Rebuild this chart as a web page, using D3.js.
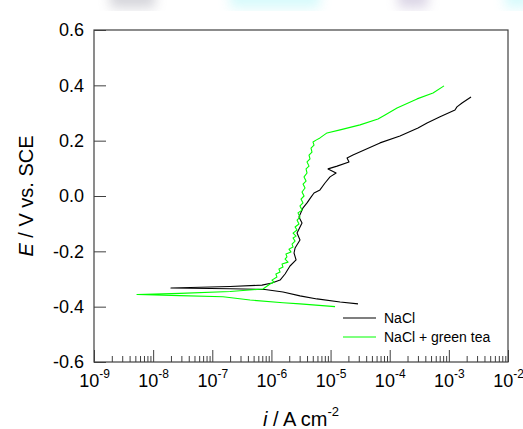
<!DOCTYPE html>
<html><head><meta charset="utf-8">
<script src="https://cdn.jsdelivr.net/npm/d3@7"></script>
<style>body{margin:0;background:#fff} svg{display:block;font-family:Arial,"Liberation Sans",sans-serif}</style>
</head><body><svg id="c" width="523" height="429"></svg>
<script>
// NaCl (black) : current density (A cm^-2) and potential (V vs SCE)
const naclI=[2.91e-5,1.45e-5,5.90e-6,3.04e-6,1.57e-6,7.78e-7,2.00e-7,2.00e-8,2.00e-7,6.93e-7,1.02e-6,1.40e-6,1.70e-6,2.06e-6,2.61e-6,2.41e-6,2.51e-6,3.04e-6,2.71e-6,3.29e-6,2.92e-6,3.42e-6,4.00e-6,4.67e-6,5.25e-6,6.62e-6,8.05e-6,9.79e-6,1.24e-5,9.06e-6,1.29e-5,2.05e-5,1.90e-5,2.39e-5,6.85e-5,1.49e-4,3.01e-4,4.28e-4,7.10e-4,1.27e-3,1.37e-3,1.67e-3,2.37e-3];
const naclE=[-0.390,-0.383,-0.372,-0.361,-0.347,-0.338,-0.335,-0.3325,-0.327,-0.322,-0.3145,-0.304,-0.282,-0.253,-0.231,-0.206,-0.188,-0.159,-0.134,-0.098,-0.076,-0.043,-0.025,-0.004,0.011,0.022,0.047,0.069,0.083,0.098,0.108,0.123,0.137,0.148,0.192,0.217,0.246,0.264,0.286,0.311,0.322,0.336,0.358];
// NaCl + green tea (green)
const teaI=[1.19e-5,3.04e-6,1.57e-6,4.35e-7,1.52e-7,2.84e-8,5.33e-9,2.84e-8,2.00e-7,7.21e-7,
 9.46e-7,1.11e-6,1.02e-6,1.24e-6,1.19e-6,1.40e-6,1.34e-6,1.57e-6,1.51e-6,1.91e-6,1.70e-6,1.83e-6,1.76e-6,2.14e-6,1.98e-6,2.32e-6,2.23e-6,2.51e-6,2.32e-6,2.61e-6,2.32e-6,2.71e-6,2.51e-6,2.92e-6,2.71e-6,3.04e-6,2.81e-6,3.29e-6,3.04e-6,3.42e-6,3.16e-6,3.56e-6,3.29e-6,3.70e-6,3.42e-6,3.85e-6,3.56e-6,4.00e-6,3.85e-6,4.32e-6,4.00e-6,4.49e-6,4.32e-6,4.85e-6,4.67e-6,5.25e-6,5.05e-6,5.68e-6,6.62e-6,
 8.71e-6,1.45e-5,3.15e-5,6.34e-5,8.34e-5,1.33e-4,2.90e-4,5.40e-4,8.28e-4];
const teaE=[-0.400,-0.390,-0.386,-0.376,-0.364,-0.360,-0.356,-0.352,-0.345,-0.336,
 -0.318,-0.311,-0.304,-0.293,-0.282,-0.275,-0.264,-0.257,-0.246,-0.239,-0.228,-0.220,-0.210,-0.202,-0.192,-0.184,-0.174,-0.163,-0.152,-0.145,-0.134,-0.123,-0.112,-0.101,-0.087,-0.076,-0.061,-0.051,-0.036,-0.025,-0.011,0.000,0.0145,0.029,0.043,0.054,0.069,0.083,0.098,0.108,0.123,0.134,0.148,0.159,0.173,0.184,0.195,0.202,0.210,
 0.228,0.239,0.257,0.278,0.293,0.318,0.351,0.372,0.398];

const seriesNames=["NaCl","NaCl + green tea"];
const seriesColors=["#000000","#00ff00"];
const xTickExps=[-9,-8,-7,-6,-5,-4,-3,-2];
const yTicks=[-0.6,-0.4,-0.2,0.0,0.2,0.4,0.6];

const L=94,R=508,T=30,B=362;
const svg=d3.select("#c");
const x=d3.scaleLog().domain([1e-9,1e-2]).range([L,R]);
const y=d3.scaleLinear().domain([-0.6,0.6]).range([B,T]);
const frameColor="#404040";

// faint background watermark strip at the top of the image
const defs=svg.append("defs");
defs.append("filter").attr("id","blur").append("feGaussianBlur").attr("stdDeviation",6);
const wm=svg.append("g").attr("filter","url(#blur)").attr("opacity",0.35);
[[110,45,"#8a8a9a"],[230,90,"#8ef2f5"],[398,30,"#9a8ab8"],[505,25,"#8ef2f5"]].forEach(([xx,w,c])=>{
  wm.append("rect").attr("x",xx).attr("y",-14).attr("width",w).attr("height",22).attr("fill",c);
});

// minor x ticks
const minor=[];
for(let d=-9;d<-2;d++){for(let k=2;k<=9;k++)minor.push(k*Math.pow(10,d));}
svg.append("g").attr("transform",`translate(0,${B})`)
  .call(d3.axisBottom(x).tickValues(minor).tickSizeInner(-6).tickSizeOuter(0).tickFormat(""))
  .call(g=>g.select(".domain").remove())
  .call(g=>g.selectAll("line").attr("stroke",frameColor));

// major x ticks
const xAx=svg.append("g").attr("transform",`translate(0,${B})`)
  .call(d3.axisBottom(x).tickValues(xTickExps.map(e=>Math.pow(10,e))).tickSizeInner(-12).tickSizeOuter(0).tickPadding(12).tickFormat(""));
xAx.select(".domain").remove();
xAx.selectAll("line").attr("stroke",frameColor);
xAx.selectAll(".tick text").each(function(d,i){
  const t=d3.select(this).attr("fill","#000").attr("font-size",18).attr("font-family","Arial, 'Liberation Sans', sans-serif").attr("text-anchor","middle").attr("dy","0.71em");
  t.append("tspan").text("10");
  t.append("tspan").attr("font-size",12).attr("dy","-0.75em").text(String(xTickExps[i]));
});

// y axis
const yAx=svg.append("g").attr("transform",`translate(${L},0)`)
  .call(d3.axisLeft(y).tickValues(yTicks).tickSizeInner(-12).tickSizeOuter(0).tickPadding(10).tickFormat(d=>d.toFixed(1)));
yAx.select(".domain").remove();
yAx.selectAll("line").attr("stroke",frameColor);
yAx.selectAll("text").attr("font-size",18).attr("fill","#000").attr("font-family","Arial, 'Liberation Sans', sans-serif");

// frame
svg.append("rect").attr("x",L).attr("y",T).attr("width",R-L).attr("height",B-T)
  .attr("fill","none").attr("stroke",frameColor).attr("stroke-width",1.2);

// curves
const line=d3.line().x(d=>x(d[0])).y(d=>y(d[1]));
const series=[naclI.map((v,i)=>[v,naclE[i]]), teaI.map((v,i)=>[v,teaE[i]])];
series.forEach((s,k)=>{
  svg.append("path").datum(s).attr("d",line).attr("fill","none")
    .attr("stroke",seriesColors[k]).attr("stroke-width",1.1).attr("stroke-linejoin","round");
});

// legend
const lg=svg.append("g");
seriesNames.forEach((n,k)=>{
  const yy=318+k*19;
  lg.append("line").attr("x1",343).attr("x2",376).attr("y1",yy).attr("y2",yy).attr("stroke",seriesColors[k]).attr("stroke-width",1.1);
  lg.append("text").attr("x",384).attr("y",yy+5).attr("font-size",14).attr("fill","#000").text(n);
});

// axis titles
const yt=svg.append("text").attr("transform",`translate(33,${(T+B)/2}) rotate(-90)`)
  .attr("text-anchor","middle").attr("font-size",20).attr("fill","#000");
yt.append("tspan").attr("font-style","italic").text("E");
yt.append("tspan").text(" / V vs. SCE");

const xt=svg.append("text").attr("x",(L+R)/2).attr("y",426).attr("text-anchor","middle").attr("font-size",20).attr("fill","#000");
xt.append("tspan").attr("font-style","italic").text("i");
xt.append("tspan").text(" / A cm");
xt.append("tspan").attr("font-size",13).attr("dy","-0.8em").text("-2");
</script></body></html>
